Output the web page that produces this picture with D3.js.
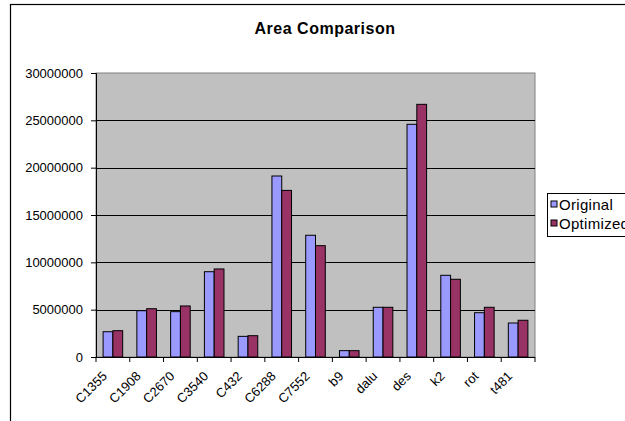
<!DOCTYPE html>
<html>
<head>
<meta charset="utf-8">
<script src="https://cdn.jsdelivr.net/npm/d3@7"></script>
<style>
  html, body { margin: 0; padding: 0; background: #fff; }
  svg { display: block; font-family: "Liberation Sans", Arial, sans-serif; }
</style>
</head>
<body>
<svg id="chart" width="625" height="421"></svg>
<script>
// Circuit benchmarks and their area before / after optimization
const categories = ["C1355", "C1908", "C2670", "C3540", "C432", "C6288", "C7552", "b9", "dalu", "des", "k2", "rot", "t481"];
const original   = [2670000, 4890000, 4790000, 9010000, 2180000, 19120000, 12860000, 670000, 5250000, 24580000, 8630000, 4680000, 3590000];
const optimized  = [2780000, 5100000, 5390000, 9300000, 2250000, 17600000, 11760000, 670000, 5250000, 26690000, 8210000, 5250000, 3880000];
const seriesNames = ["Original", "Optimized"];
const yTicks = [0, 5000000, 10000000, 15000000, 20000000, 25000000, 30000000];

const colors = ["#9999FF", "#993366"];
const svg = d3.select("#chart");

// Outer chart frame (runs off the right and bottom edges)
svg.append("rect")
  .attr("x", 10.5).attr("y", 4.5)
  .attr("width", 640).attr("height", 440)
  .attr("fill", "#fff").attr("stroke", "#000").attr("stroke-width", 1.2);

const plot = { left: 96, top: 73, right: 535, bottom: 357 };

const x = d3.scaleBand()
  .domain(categories)
  .range([plot.left, plot.right])
  .paddingInner(0).paddingOuter(0);

const y = d3.scaleLinear()
  .domain([0, 30000000])
  .range([plot.bottom, plot.top]);

// Plot background
svg.append("rect")
  .attr("x", plot.left).attr("y", plot.top)
  .attr("width", plot.right - plot.left).attr("height", plot.bottom - plot.top)
  .attr("fill", "#C0C0C0").attr("stroke", "#808080").attr("stroke-width", 1);

// Horizontal gridlines
svg.append("g")
  .selectAll("line")
  .data(yTicks.filter(d => d > 0 && d < 30000000))
  .join("line")
  .attr("x1", plot.left).attr("x2", plot.right)
  .attr("y1", d => Math.round(y(d)) + 0.5).attr("y2", d => Math.round(y(d)) + 0.5)
  .attr("stroke", "#000").attr("stroke-width", 1);

// Grouped bars
const barW = x.bandwidth() * 0.29;
const groups = svg.append("g")
  .selectAll("g")
  .data(categories.map((c, i) => ({ c, vals: [original[i], optimized[i]] })))
  .join("g")
  .attr("transform", d => `translate(${x(d.c) + x.bandwidth() / 2 - barW},0)`);

groups.selectAll("rect")
  .data(d => d.vals)
  .join("rect")
  .attr("x", (d, j) => j * barW)
  .attr("y", d => y(d))
  .attr("width", barW)
  .attr("height", d => y(0) - y(d))
  .attr("fill", (d, j) => colors[j])
  .attr("stroke", "#000").attr("stroke-width", 1);

// Y axis
const yAxis = svg.append("g")
  .attr("transform", `translate(${plot.left},0)`)
  .call(d3.axisLeft(y).tickValues(yTicks).tickFormat(d3.format("d")).tickSize(5).tickPadding(8));
yAxis.select(".domain").attr("stroke", "#000");
yAxis.selectAll(".tick line").attr("stroke", "#000");
yAxis.selectAll("text").attr("font-size", 13).attr("fill", "#000")
  .attr("font-family", "Liberation Sans, Arial, sans-serif");

// X axis: ticks between categories
const xAxisG = svg.append("g").attr("transform", `translate(0,${plot.bottom})`);
xAxisG.append("line")
  .attr("x1", plot.left).attr("x2", plot.right)
  .attr("y1", 0.5).attr("y2", 0.5).attr("stroke", "#000");
xAxisG.selectAll("line.tk")
  .data(d3.range(categories.length + 1))
  .join("line").attr("class", "tk")
  .attr("x1", i => plot.left + i * x.step()).attr("x2", i => plot.left + i * x.step())
  .attr("y1", 0).attr("y2", 5).attr("stroke", "#000");

xAxisG.selectAll("text")
  .data(categories)
  .join("text")
  .attr("transform", d => `translate(${x(d) + x.bandwidth() / 2 - 5},${20}) rotate(-45)`)
  .attr("text-anchor", "end")
  .attr("font-size", 13)
  .attr("fill", "#000")
  .text(d => d);

// Title
svg.append("text")
  .attr("x", 325).attr("y", 34)
  .attr("text-anchor", "middle")
  .attr("font-size", 16).attr("font-weight", "bold")
  .attr("letter-spacing", 0.5)
  .attr("fill", "#000")
  .text("Area Comparison");

// Legend
const legend = svg.append("g").attr("transform", "translate(547.5,193.5)");
legend.append("rect")
  .attr("width", 100).attr("height", 43)
  .attr("fill", "#fff").attr("stroke", "#000").attr("stroke-width", 1);
const items = legend.selectAll("g.item")
  .data(seriesNames)
  .join("g").attr("class", "item")
  .attr("transform", (d, i) => `translate(0,${i * 19})`);
items.append("rect")
  .attr("x", 3.5).attr("y", 7.5).attr("width", 6).attr("height", 6)
  .attr("fill", (d, i) => colors[i]).attr("stroke", "#000").attr("stroke-width", 1);
items.append("text")
  .attr("x", 11.5).attr("y", 16.5)
  .attr("font-size", 15).attr("letter-spacing", 0.3).attr("fill", "#000")
  .text(d => d);
</script>
</body>
</html>
